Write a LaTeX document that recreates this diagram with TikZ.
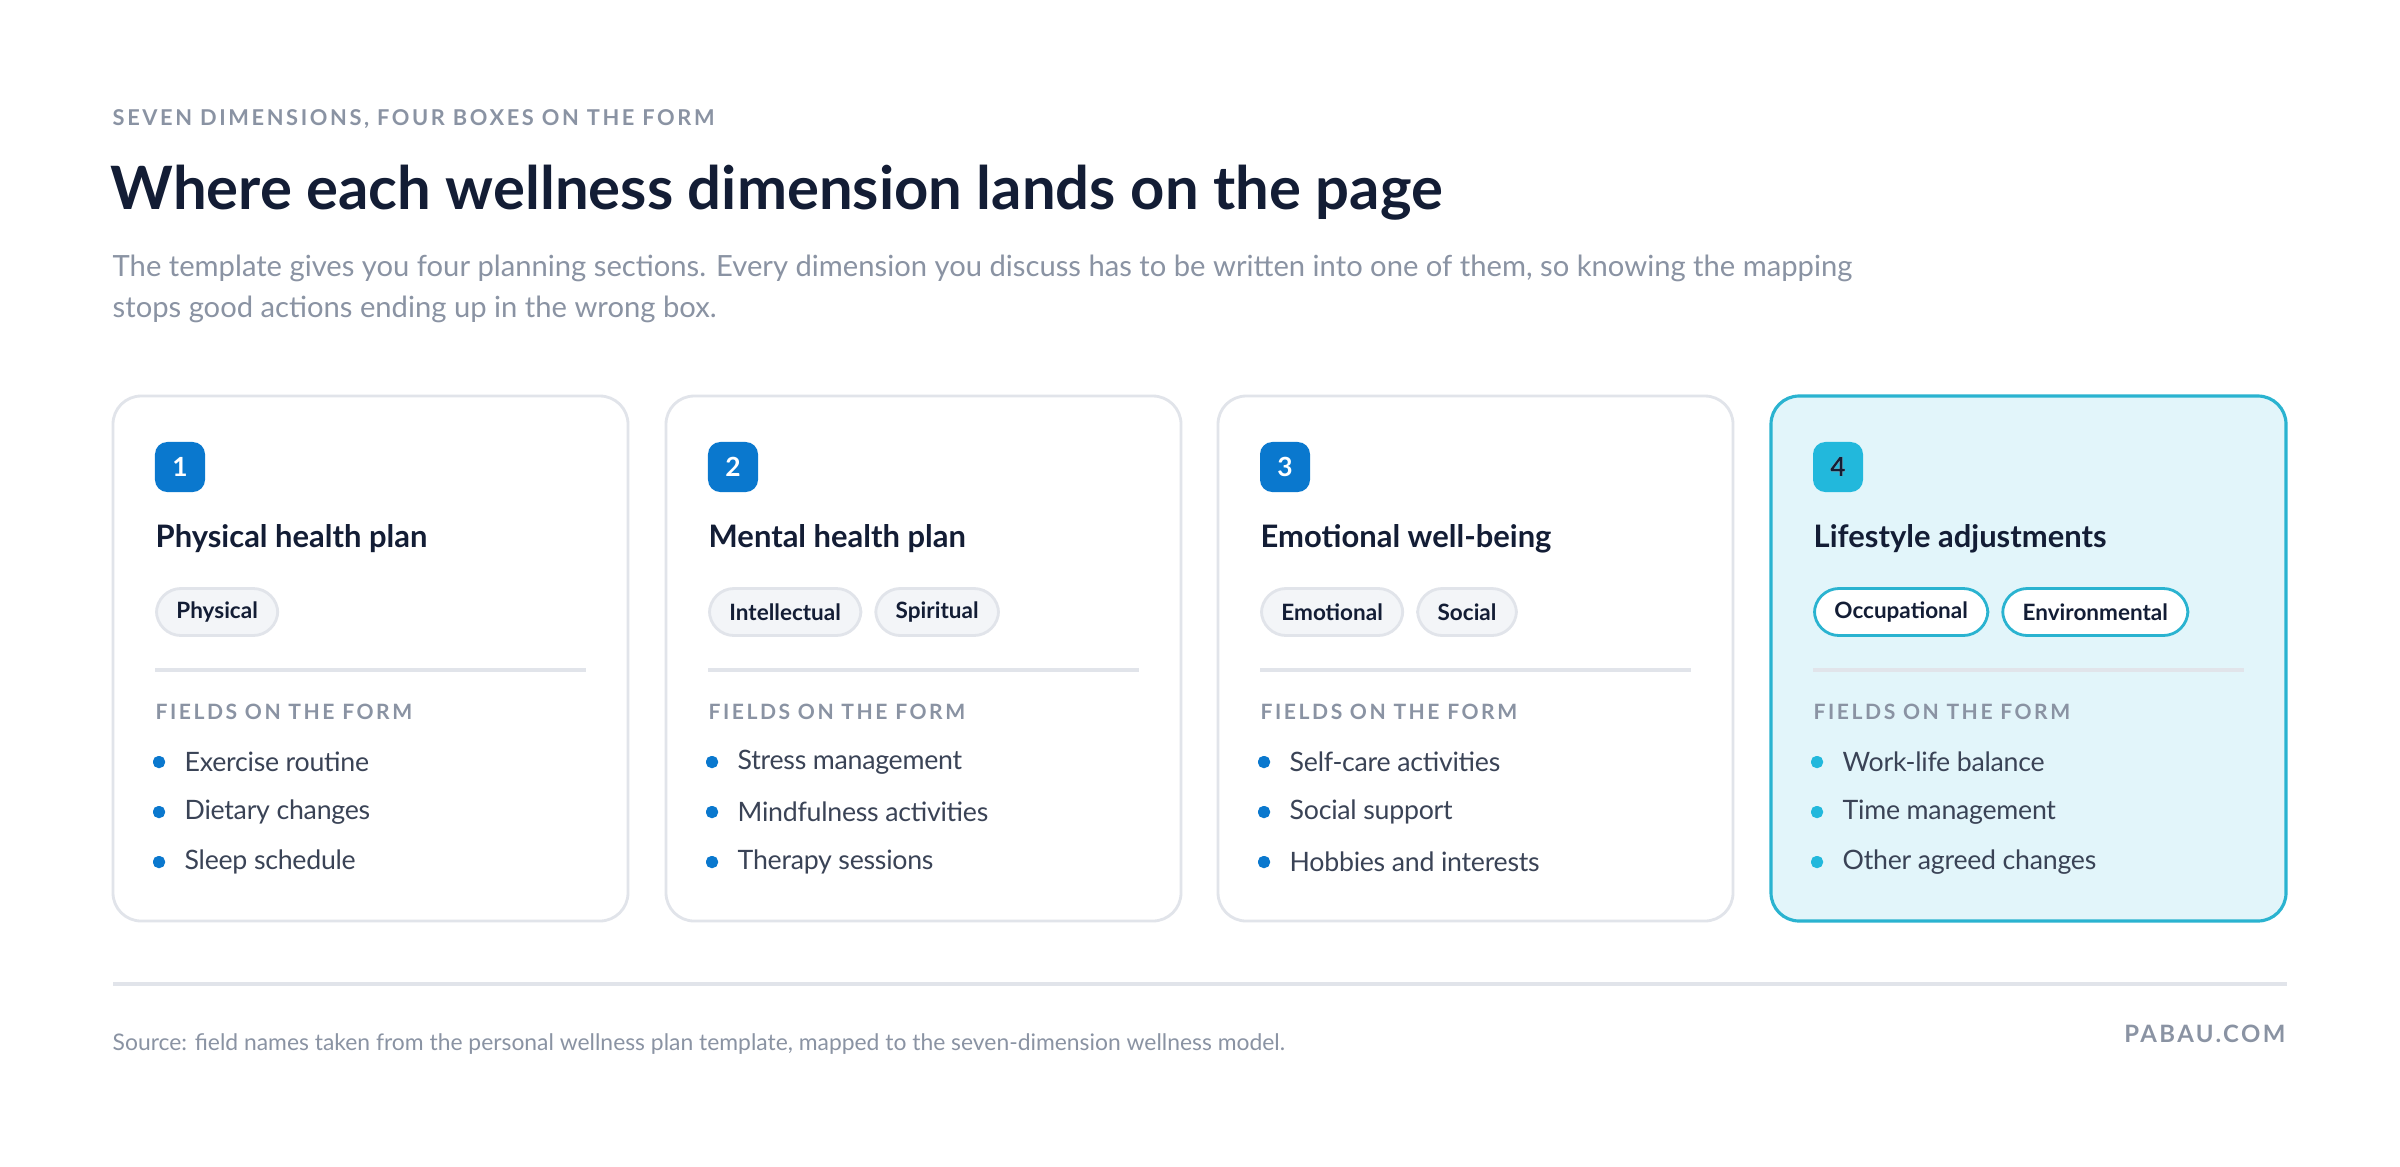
\documentclass[tikz,border=0pt]{standalone}
\usepackage{fontspec}
\setmainfont{Lato}
\usetikzlibrary{positioning}
\definecolor{navy}{HTML}{131D35}
\definecolor{greytext}{HTML}{8A93A3}
\definecolor{bodytext}{HTML}{3A4356}
\definecolor{cardline}{HTML}{E1E4EA}
\definecolor{pillfill}{HTML}{F3F5F8}
\definecolor{blueacc}{HTML}{0A78CE}
\definecolor{cyanacc}{HTML}{22B8DC}
\definecolor{cyanline}{HTML}{2AB3D0}
\definecolor{cyanfill}{HTML}{E2F5FA}

% one planning card: index, left x, title, pill A, pill B, items, accent, card style, pill style
\newcommand\wellcard[9]{%
  \draw[#8] (#2,396) rectangle ++(515,525);
  \node[badge, fill=#7] (b#1) at (#2+67,467) {#1};
  \node[cardtitle] (t#1) at (#2+42,539) {#3};
  \node[pill, #9] (p#1a) at (#2+42,612) {#4};
  \if\relax\detokenize{#5}\relax\else
    \node[pill, #9, right=12 of p#1a] (p#1b) {#5};
  \fi
  \draw[cardline, line width=1.2pt] (#2+42,670) -- (#2+473,670);
  \node[fields] (f#1) at (#2+42,712) {FIELDS ON THE FORM};
  \foreach \it [count=\k] in {#6} {
    \fill[#7, rounded corners=1.5pt] (#2+40,{712+50*\k-6}) rectangle ++(12,12);
    \node[item] (i#1\k) at (#2+71,712+50*\k) {\it};
  }
}

\begin{document}
\begin{tikzpicture}[x=0.01cm, y=-0.01cm,
  badge/.style={rounded corners=3.5pt, minimum size=0.5cm, text=white, font=\fontsize{7.5}{9}\selectfont\bfseries},
  cardtitle/.style={anchor=west, inner sep=0, text=navy, font=\fontsize{8.8}{10}\selectfont\bfseries},
  pill/.style={anchor=west, rounded corners=7pt, draw=cardline, fill=pillfill, line width=0.8pt, minimum height=0.47cm, inner xsep=0.2cm, text=navy, font=\fontsize{6.4}{8}\selectfont\bfseries},
  pillcyan/.style={draw=cyanline, fill=white},
  plaincard/.style={draw=cardline, fill=white, line width=0.8pt, rounded corners=8pt},
  cyancard/.style={draw=cyanline, fill=cyanfill, line width=0.9pt, rounded corners=8pt},
  fields/.style={anchor=west, inner sep=0, text=greytext, font=\fontsize{6}{7}\selectfont\bfseries\addfontfeatures{LetterSpace=12}},
  item/.style={anchor=west, inner sep=0, text=bodytext, font=\fontsize{7.6}{9}\selectfont\addfontfeatures{LetterSpace=-1}},
  node distance=12
]
\useasboundingbox[fill=white] (0,0) rectangle (2400,1166);
\node[anchor=west, inner sep=0, text=greytext, font=\fontsize{6.2}{7}\selectfont\bfseries\addfontfeatures{LetterSpace=12}] (kicker) at (112,119) {SEVEN DIMENSIONS, FOUR BOXES ON THE FORM};
\node[anchor=west, inner sep=0, text=navy, font=\fontsize{17}{20}\selectfont\bfseries] (title) at (110,193) {Where each wellness dimension lands on the page};
\node[anchor=north west, inner sep=0, text=greytext, align=left, font=\fontsize{8.3}{11.8}\selectfont] (lede) at (112,254) {The template gives you four planning sections. Every dimension you discuss has to be written into one of them, so knowing the mapping\\stops good actions ending up in the wrong box.};

\wellcard{1}{113}{Physical health plan}{Physical}{}{Exercise routine,Dietary changes,Sleep schedule}{blueacc}{plaincard}{}
\wellcard{2}{666}{Mental health plan}{Intellectual}{Spiritual}{Stress management,Mindfulness activities,Therapy sessions}{blueacc}{plaincard}{}
\wellcard{3}{1218}{Emotional well-being}{Emotional}{Social}{Self-care activities,Social support,Hobbies and interests}{blueacc}{plaincard}{}
\wellcard{4}{1771}{Lifestyle adjustments}{Occupational}{Environmental}{Work-life balance,Time management,Other agreed changes}{cyanacc}{cyancard}{pillcyan}
\node[text=navy] at (b4) {\fontsize{7.5}{9}\selectfont\bfseries 4};

\draw[cardline, line width=0.9pt] (113,984) -- (2287,984);
\node[anchor=west, inner sep=0, text=greytext, font=\fontsize{6.5}{8}\selectfont] (source) at (112,1044) {Source: field names taken from the personal wellness plan template, mapped to the seven-dimension wellness model.};
\node[anchor=east, inner sep=0, text=greytext, font=\fontsize{6.8}{8}\selectfont\bfseries\addfontfeatures{LetterSpace=10}] (brand) at (2286,1034) {PABAU.COM};
\end{tikzpicture}
\end{document}
